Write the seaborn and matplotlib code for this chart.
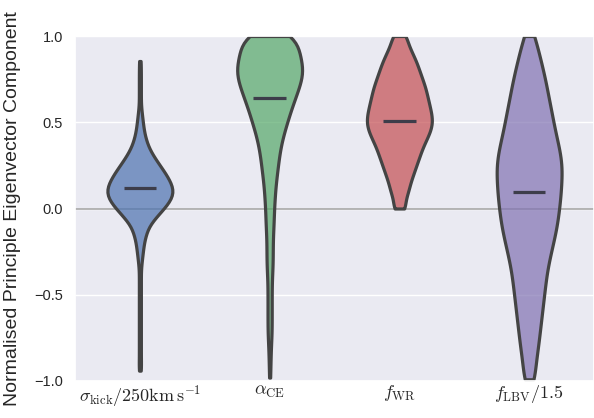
import numpy as np
import pandas as pd
import matplotlib
matplotlib.use("Agg")
import matplotlib.pyplot as plt
from matplotlib.colors import to_rgba
import seaborn as sns

# ---- data (histogram of samples) ----
labels = [r"$\sigma_{\rm kick}/250{\rm km\,s^{-1}}$", r"$\alpha_{\rm CE}$",
          r"$f_{\rm WR}$", r"$f_{\rm LBV}/1.5$"]

kick_values = [-0.94, -0.90, -0.85, -0.80, -0.75, -0.70, -0.65, -0.60, -0.55, -0.50,
               -0.45, -0.40, -0.35, -0.30, -0.25, -0.20, -0.15, -0.10, -0.05, 0.00,
               0.05, 0.10, 0.15, 0.20, 0.25, 0.30, 0.35, 0.40, 0.45, 0.50,
               0.55, 0.60, 0.65, 0.70, 0.75, 0.80, 0.855]
kick_counts = [1, 1, 1, 1, 1, 1, 1, 1, 1, 1,
               1, 1, 1, 2, 3, 4, 6, 9, 16, 24,
               31, 34, 31, 26, 20, 14, 9, 6, 4, 3,
               2, 1, 1, 1, 1, 1, 1]

ace_values = [-0.98, -0.90, -0.85, -0.80, -0.75, -0.70, -0.65, -0.60, -0.55, -0.50,
              -0.45, -0.40, -0.35, -0.30, -0.25, -0.20, -0.15, -0.10, -0.05, 0.00,
              0.05, 0.10, 0.15, 0.20, 0.25, 0.30, 0.35, 0.40, 0.45, 0.50,
              0.55, 0.60, 0.65, 0.70, 0.75, 0.80, 0.85, 0.90, 0.95, 1.00]
ace_counts = [1, 1, 1, 1, 2, 2, 2, 2, 2, 2,
              2, 2, 3, 3, 3, 3, 3, 4, 4, 4,
              5, 5, 6, 7, 8, 9, 10, 12, 14, 17,
              19, 22, 25, 28, 31, 33, 31, 28, 27, 30]

fwr_values = [0.00, 0.05, 0.10, 0.15, 0.20, 0.25, 0.30, 0.35, 0.40, 0.45,
              0.50, 0.55, 0.60, 0.65, 0.70, 0.75, 0.80, 0.85, 0.90, 0.95, 1.00]
fwr_counts = [6, 6, 9, 11, 14, 17, 20, 23, 27, 31,
              33, 32, 30, 28, 26, 23, 20, 17, 13, 9, 7]

flbv_values = [-0.99, -0.95, -0.90, -0.85, -0.80, -0.75, -0.70, -0.65, -0.60, -0.55,
               -0.50, -0.45, -0.40, -0.35, -0.30, -0.25, -0.20, -0.15, -0.10, -0.05,
               0.00, 0.05, 0.10, 0.15, 0.20, 0.25, 0.30, 0.35, 0.40, 0.45,
               0.50, 0.55, 0.60, 0.65, 0.70, 0.75, 0.80, 0.85, 0.90, 0.95, 1.00]
flbv_counts = [7, 5, 6, 8, 9, 10, 11, 12, 13, 14,
               15, 16, 17, 18, 20, 22, 24, 26, 28, 29,
               30, 31, 32, 32, 33, 33, 32, 30, 28, 26,
               24, 23, 21, 19, 18, 16, 14, 12, 10, 7, 7]

medians = [0.116, 0.643, 0.51, 0.098]
colors = ["#4C72B0", "#55A868", "#C44E52", "#8172B2"]

# ---- build long-form table ----
series = [(kick_values, kick_counts), (ace_values, ace_counts),
          (fwr_values, fwr_counts), (flbv_values, flbv_counts)]
frames = []
for lab, (vals, cnts) in zip(labels, series):
    frames.append(pd.DataFrame({"param": lab,
                                "value": np.repeat(np.array(vals), np.array(cnts))}))
df = pd.concat(frames, ignore_index=True)

# ---- style ----
sns.set_theme(style="darkgrid")
plt.rcParams["font.family"] = ["Liberation Sans", "DejaVu Sans"]
plt.rcParams["mathtext.fontset"] = "cm"

fig = plt.figure(figsize=(5.94, 4.18), dpi=100)
ax = fig.add_axes([75 / 594, 37 / 418, 1 - 75 / 594, 345 / 418])

ax.axhline(0, color="#a8a8a8", lw=1.2, zorder=1)

sns.violinplot(data=df, x="param", y="value", hue="param", order=labels,
               hue_order=labels, palette=colors, saturation=1, legend=False,
               cut=0, inner=None, density_norm="width", width=0.5,
               bw_method=0.15, linewidth=2.3, linecolor="#444444", ax=ax)
for coll, c in zip(ax.collections, colors):
    coll.set_facecolor(to_rgba(c, 0.7))
    coll.set_edgecolor("#444444")

for i, m in enumerate(medians):
    ax.plot([i - 0.125, i + 0.125], [m, m], color="#3d3d4a", lw=2.3,
            solid_capstyle="butt", zorder=5)

ax.set_xlim(-0.5, 3.5)
ax.set_ylim(-1.0, 1.0)
ax.set_yticks([-1.0, -0.5, 0.0, 0.5, 1.0])
ax.set_yticklabels(["\u22121.0", "\u22120.5", "0.0", "0.5", "1.0"])
ax.tick_params(axis="both", length=1.5, width=0.8, color="#555555")
ax.tick_params(axis="y", labelsize=10.5, pad=7)
ax.tick_params(axis="x", labelsize=13, pad=0)
ax.set_xlabel("")
ax.set_ylabel("Normalised Principle Eigenvector Component", fontsize=14)
ax.yaxis.set_label_coords(-0.104, 0.5)

fig.savefig("out.png", dpi=100)
